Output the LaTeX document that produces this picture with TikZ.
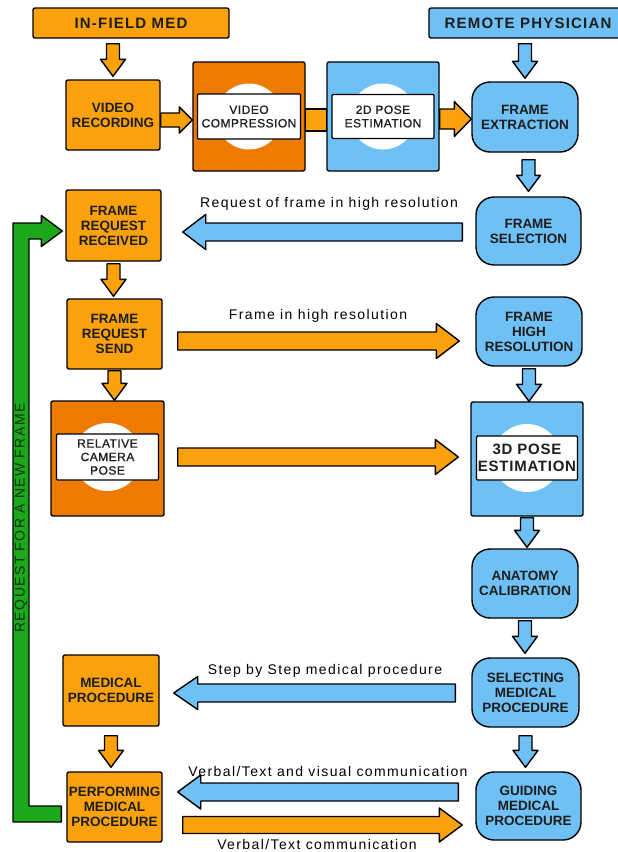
\documentclass[tikz,border=0pt]{standalone}
\usepackage{fontspec}
\setmainfont{Liberation Sans}
\newfontfamily\hdfont[LetterSpace=8]{Liberation Sans}
\newfontfamily\lblfont[LetterSpace=10]{Liberation Sans}
\newfontfamily\innerfont[LetterSpace=4,FakeBold=0.8]{Liberation Sans}
\newfontfamily\bigfont[LetterSpace=5]{Liberation Sans}
\usetikzlibrary{calc}

\definecolor{orng}{RGB}{250,161,12}
\definecolor{dorng}{RGB}{237,123,0}
\definecolor{sky}{RGB}{111,192,245}
\definecolor{grn}{RGB}{27,168,27}
\definecolor{ink}{RGB}{30,30,30}
\definecolor{gink}{RGB}{15,50,15}

\tikzset{
  outline/.style={draw=black, line width=1.4pt},
  obox/.style={outline, fill=orng, rounded corners=2pt, align=center, inner sep=0pt,
    text=ink, font=\bfseries\fontsize{13.5}{15}\selectfont},
  bbox/.style={outline, fill=sky, rounded corners=18pt, align=center, inner sep=0pt,
    text=ink, font=\bfseries\fontsize{13.5}{15}\selectfont},
  cbox/.style={outline, fill=#1, rounded corners=2pt, inner sep=0pt},
  hdr/.style={outline, fill=#1, rounded corners=2pt, inner sep=0pt,
    text=ink, font=\hdfont\bfseries\fontsize{15}{17}\selectfont},
  tagbox/.style={outline, fill=white, rounded corners=1pt, align=center, inner sep=0pt,
    text=ink, font=\innerfont\fontsize{12}{13.5}\selectfont},
  halo/.style={fill=white},
  lbl/.style={text=black, inner sep=0pt, font=\lblfont\fontsize{14}{16}\selectfont},
  arrowbody/.style={outline, line join=round},
}

% block arrow: fill, start, tip, shaft half width, head half width, head length
\newcommand{\blockarrow}[6]{%
  \coordinate (ba-s) at (#2);
  \coordinate (ba-t) at (#3);
  \coordinate (ba-h) at ($(ba-t)!#6!(ba-s)$);
  \filldraw[arrowbody, fill=#1]
    ($(ba-s)!#4!90:(ba-t)$) -- ($(ba-h)!#4!-90:(ba-s)$) -- ($(ba-h)!#5!-90:(ba-s)$)
    -- (ba-t) -- ($(ba-h)!#5!90:(ba-s)$) -- ($(ba-h)!#4!90:(ba-s)$)
    -- ($(ba-s)!#4!-90:(ba-t)$) -- cycle;
}

\begin{document}
\begin{tikzpicture}[x=1pt, y=-1pt]
\useasboundingbox (0,0) rectangle (618,852);

% column headers
\node[hdr=orng, minimum width=196pt, minimum height=30pt] (infield) at (131,23) {IN-FIELD MED};
\node[hdr=sky, minimum width=198pt, minimum height=30pt] (remote) at (528,23) {REMOTE PHYSICIAN};

% in-field side
\node[obox, minimum width=94pt, minimum height=70pt] (vr) at (113,115) {VIDEO\\RECORDING};
\node[obox, minimum width=95pt, minimum height=71pt] (frr) at (113.5,225.5) {FRAME\\REQUEST\\RECEIVED};
\node[obox, minimum width=95pt, minimum height=70pt] (frs) at (114.5,334) {FRAME\\REQUEST\\SEND};
\node[obox, minimum width=96pt, minimum height=71pt] (mp) at (111,690.5) {MEDICAL\\PROCEDURE};
\node[obox, minimum width=95pt, minimum height=70pt] (pmp) at (114.5,807) {PERFORMING\\MEDICAL\\PROCEDURE};

% processing blocks with a labelled disc
\node[cbox=dorng, minimum width=112pt, minimum height=109pt] (vc) at (249,116.5) {};
\fill[halo] (vc.center) circle (33pt);
\node[tagbox, minimum width=103pt, minimum height=45pt] (vcl) at (vc.center) {VIDEO\\COMPRESSION};

\node[cbox=sky, minimum width=112pt, minimum height=109pt] (pose2d) at (383,116.5) {};
\fill[halo] (pose2d.center) circle (33pt);
\node[tagbox, minimum width=102pt, minimum height=44pt] (p2l) at (pose2d.center) {2D POSE\\ESTIMATION};

\node[cbox=dorng, minimum width=113pt, minimum height=115pt] (rcp) at (107.5,458.5) {};
\fill[halo] ($(rcp.center)+(0,-1.5)$) circle (34pt);
\node[tagbox, minimum width=102pt, minimum height=46pt] (rcpl) at ($(rcp.center)+(0,-1.5)$) {RELATIVE\\CAMERA\\POSE};

\node[cbox=sky, minimum width=112pt, minimum height=114pt] (pose3d) at (527,459) {};
\fill[halo] ($(pose3d.center)+(0,-1)$) circle (34pt);
\node[tagbox, minimum width=101pt, minimum height=44pt,
      font=\bigfont\bfseries\fontsize{15}{17}\selectfont] (p3l) at ($(pose3d.center)+(0,-1)$) {3D POSE\\ESTIMATION};

% remote side
\node[bbox, minimum width=106pt, minimum height=70pt] (fe) at (525,117) {FRAME\\EXTRACTION};
\node[bbox, minimum width=105pt, minimum height=68pt] (fs) at (528.5,231) {FRAME\\SELECTION};
\node[bbox, minimum width=106pt, minimum height=69pt] (fhr) at (529,331.5) {FRAME\\HIGH\\RESOLUTION};
\node[bbox, minimum width=106pt, minimum height=69pt] (ac) at (525,583.5) {ANATOMY\\CALIBRATION};
\node[bbox, minimum width=107pt, minimum height=69pt] (smp) at (525.5,692.5) {SELECTING\\MEDICAL\\PROCEDURE};
\node[bbox, minimum width=105pt, minimum height=68pt] (gmp) at (528.5,806) {GUIDING\\MEDICAL\\PROCEDURE};

% short vertical flow arrows
\blockarrow{orng}{$(vr.north |- infield.south)+(0,5)$}{$(vr.north)+(0,-3)$}{6.5pt}{12.5pt}{17pt}
\blockarrow{sky}{$(fe.north |- remote.south)+(0,5)$}{$(fe.north)+(0,-3)$}{6.5pt}{12.5pt}{17pt}
\blockarrow{sky}{$(fs.north |- fe.south)+(0,7)$}{$(fs.north)+(0,-5)$}{6.5pt}{12pt}{16pt}
\blockarrow{orng}{$(frr.south)+(0,2)$}{$(frr.south |- frs.north)+(0,-2)$}{6.5pt}{12.5pt}{17pt}
\blockarrow{orng}{$(frs.south)+(0,1)$}{frs.south |- rcp.north}{6.5pt}{12.5pt}{17pt}
\blockarrow{sky}{$(fhr.south)+(0,2)$}{fhr.south |- pose3d.north}{6.5pt}{12.5pt}{17pt}
\blockarrow{sky}{$(pose3d.south)+(0,1)$}{$(pose3d.south |- ac.north)+(0,-1)$}{6.5pt}{12.5pt}{17pt}
\blockarrow{sky}{$(ac.south)+(0,2)$}{$(ac.south |- smp.north)+(0,-4)$}{6.5pt}{12.5pt}{17pt}
\blockarrow{sky}{$(smp.south)+(0,8)$}{$(smp.south |- gmp.north)+(0,-4)$}{6.5pt}{12.5pt}{17pt}
\blockarrow{orng}{$(mp.south)+(0,9)$}{$(mp.south |- pmp.north)+(0,-4)$}{6.5pt}{12.5pt}{17pt}

% top pipeline
\blockarrow{orng}{$(vr.east)+(0,5)$}{$(vc.west |- vr.east)+(0,5)$}{7pt}{13pt}{13pt}
\filldraw[arrowbody, fill=orng] ($(vc.east)+(0,-7.5)$) rectangle ($(pose2d.west)+(0,14.5)$);
\blockarrow{orng}{$(pose2d.east)+(0,2.5)$}{$(fe.west |- pose2d.east)+(0,2.5)$}{10pt}{17.5pt}{17pt}

% long exchange arrows
\blockarrow{sky}{$(fs.west)+(-13,1)$}{$(frr.east |- fs.west)+(21,1)$}{9pt}{17.5pt}{23pt}
\blockarrow{orng}{$(frs.east)+(15,7)$}{$(fhr.west |- frs.east)+(-16,7)$}{9pt}{17.5pt}{23pt}
\blockarrow{orng}{$(rcp.east)+(13,-1.5)$}{$(pose3d.west |- rcp.east)+(-12,-1.5)$}{9pt}{17.5pt}{23pt}
\blockarrow{sky}{$(smp.west)+(-16,0.5)$}{$(mp.east |- smp.west)+(14,0.5)$}{9pt}{16.5pt}{24pt}
\blockarrow{sky}{$(gmp.west)+(-17,-14)$}{$(pmp.east |- gmp.west)+(15,-14)$}{9pt}{17pt}{23pt}
\blockarrow{orng}{$(pmp.east)+(20,18)$}{$(gmp.west |- pmp.east)+(-13,18)$}{8.5pt}{17pt}{23pt}

% arrow captions
\node[lbl] (l1) at (329,204) {Request of frame in high resolution};
\node[lbl] (l2) at (318,316) {Frame in high resolution};
\node[lbl] (l3) at (325,671) {Step by Step medical procedure};
\node[lbl] (l4) at (328,771) {Verbal/Text and visual communication};
\node[lbl] (l5) at (317,844) {Verbal/Text communication};

% feedback loop back to the frame request
\coordinate (gtip) at ($(frr.west)+(-3,5.5)$);
\coordinate (gend) at ($(pmp.west)+(-5,7)$);
\coordinate (gx) at (21,0);
\filldraw[arrowbody, fill=grn]
  ($(gend)+(0,8)$) -- ($(gx |- gend)+(-8,8)$) -- ($(gx |- gtip)+(-8,-8)$)
  -- ($(gtip)+(-21,-8)$) -- ($(gtip)+(-21,-15.5)$) -- (gtip) -- ($(gtip)+(-21,15.5)$)
  -- ($(gtip)+(-21,8)$) -- ($(gx |- gtip)+(8,8)$) -- ($(gx |- gend)+(8,-8)$)
  -- ($(gend)+(0,-8)$) -- cycle;
\node[rotate=90, text=gink, inner sep=0pt, font=\lblfont\fontsize{14}{16}\selectfont] (gl) at (21,518) {REQUEST FOR A NEW FRAME};
\end{tikzpicture}
\end{document}
